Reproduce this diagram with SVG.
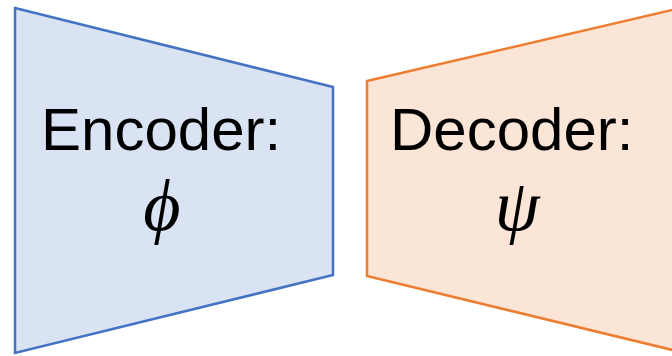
<svg xmlns="http://www.w3.org/2000/svg" width="672" height="356" viewBox="0 0 672 356">
<style>
.lbl{font-family:"Liberation Sans",Arial,sans-serif;font-size:60px;fill:#000}
.sym{font-family:"Liberation Serif","DejaVu Serif","Times New Roman",serif;font-style:italic;font-size:72px;fill:#000;text-anchor:middle}
.enc{fill:#DAE3F3;stroke:#4472C4;stroke-width:2.5}
.dec{fill:#FBE5D6;stroke:#ED7D31;stroke-width:2.5}
</style>
<g id="encoder">
<polygon class="enc" points="15,8 333,87 333,275 15,353"/>
<text class="lbl" x="41" y="150">Encoder:</text>
<text class="sym" x="162" y="230">ϕ</text>
</g>
<g id="decoder">
<polygon class="dec" points="367,81 685,7 685,353 367,276"/>
<text class="lbl" x="390" y="150">Decoder:</text>
<text class="sym" x="517" y="230">ψ</text>
</g>
<g id="connectors"/>
</svg>
